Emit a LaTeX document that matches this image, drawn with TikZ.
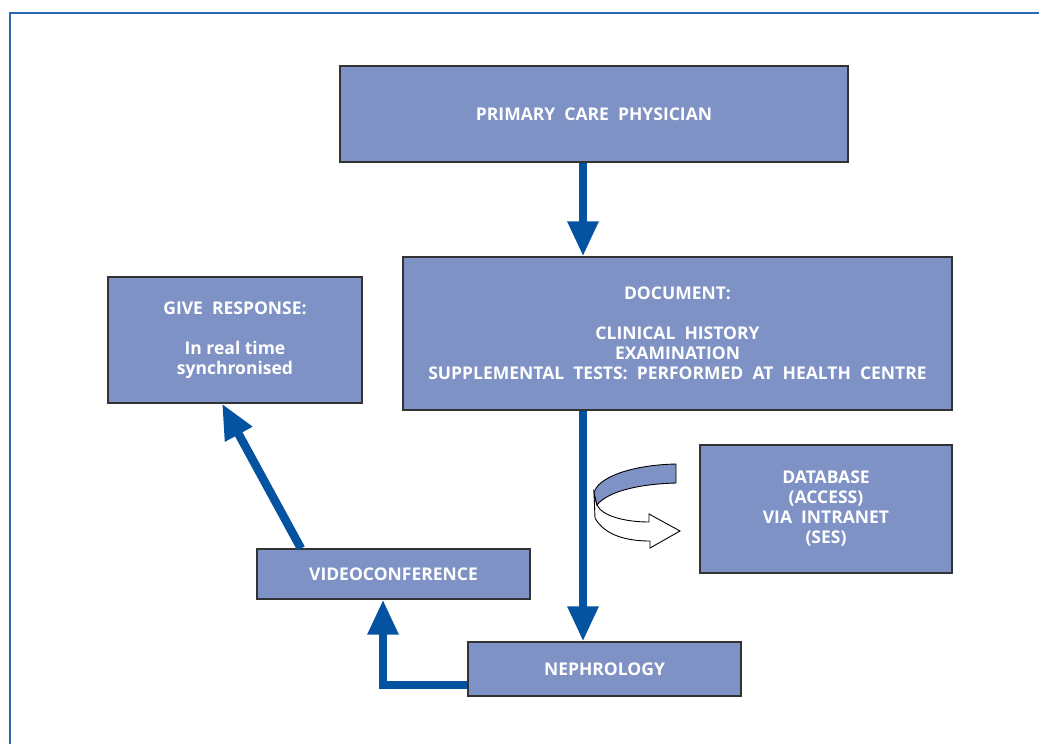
\documentclass[tikz,border=0pt]{standalone}
\usepackage{fontspec}
\setmainfont{Open Sans}
\usetikzlibrary{arrows.meta}
\definecolor{boxblue}{RGB}{127,146,197}
\definecolor{flowblue}{RGB}{4,83,160}
\definecolor{framblue}{RGB}{45,105,175}
\tikzset{
  box/.style={draw=black!80, line width=1.1pt, fill=boxblue, text=white,
    font=\fontsize{17.5}{20}\selectfont\bfseries, align=center, inner sep=0pt},
  flow/.style={draw=flowblue, line width=8.5pt,
    -{Triangle[width=29pt,length=35pt]}},
}
\begin{document}
\begin{tikzpicture}[x=1pt,y=-1pt]
  \useasboundingbox (0,0) rectangle (1039,744);
  % outer frame
  \draw[framblue, line width=2.5pt] (10,750) -- (10,13) -- (1045,13);
  % boxes
  \node[box, minimum width=508pt, minimum height=96pt] (pcp) at (594,114)
    {PRIMARY\ \ CARE\ \ PHYSICIAN};
  \node[box, minimum width=549pt, minimum height=153pt] (doc) at (677.5,333.5)
    {DOCUMENT:\\[20pt] CLINICAL\ \ HISTORY\\ EXAMINATION\\
     SUPPLEMENTAL\ \ TESTS:\ \ PERFORMED\ \ AT\ \ HEALTH\ \ CENTRE};
  \node[box, minimum width=254pt, minimum height=126pt] (resp) at (235,340)
    {GIVE\ \ RESPONSE:\\[20pt] In real time\\ synchronised};
  \node[box, minimum width=252pt, minimum height=128pt] (db) at (826,509)
    {DATABASE\\ (ACCESS)\\ VIA\ \ INTRANET\\ (SES)};
  \node[box, minimum width=273pt, minimum height=50pt] (video) at (393.5,574)
    {VIDEOCONFERENCE};
  \node[box, minimum width=273pt, minimum height=54pt] (neph) at (604.5,669)
    {NEPHROLOGY};
  % connectors
  \coordinate (spine) at (583,0);
  \draw[flow] (spine |- pcp.south) -- (spine |- doc.north);
  \draw[flow] (spine |- doc.south) -- (spine |- neph.north);
  \draw[flow] ([yshift=-16pt]neph.west) -| ([xshift=-10.5pt]video.south);
  \draw[flow] ([xshift=-92.5pt]video.north) -- ([xshift=-13pt]resp.south);
  % curved arrow to database
  \draw[black, line width=0.9pt, fill=white]
    (594,493) -- (595,518) .. controls (605,536) and (628,541) .. (650,541)
    -- (650,548) -- (680,531) -- (649,514) -- (649,522)
    .. controls (625,522) and (602,516) .. (597,505) -- cycle;
  \draw[black, line width=0.9pt, fill=boxblue]
    (676,464) .. controls (630,465) and (597,478) .. (594,493)
    -- (597,505) .. controls (608,491) and (640,484) .. (676,483) -- cycle;
\end{tikzpicture}
\end{document}
